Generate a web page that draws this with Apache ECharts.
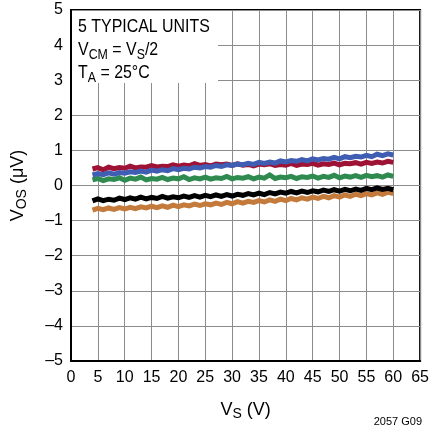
<!DOCTYPE html>
<html>
<head>
<meta charset="utf-8">
<script src="https://cdn.jsdelivr.net/npm/echarts@6/dist/echarts.min.js"></script>
<style>html,body{margin:0;padding:0;background:#fff}#c{width:432px;height:435px}</style>
</head>
<body>
<div id="c"></div>
<script>
var FONT = "'Liberation Sans Narrow','Liberation Sans',Arial,sans-serif";
var xTicksMin = 0, xTicksMax = 65, xTickStep = 5;
var yTicksMin = -5, yTicksMax = 5, yTickStep = 1;

var supplyV = [4,5,6,7,8,9,10,11,12,13,14,15,16,17,18,19,20,21,22,23,24,25,26,27,28,29,30,31,32,33,34,35,36,37,38,39,40,41,42,43,44,45,46,47,48,49,50,51,52,53,54,55,56,57,58,59,60];

var unitRed = [0.47,0.51,0.45,0.52,0.48,0.51,0.49,0.55,0.50,0.53,0.52,0.57,0.53,0.55,0.54,0.59,0.55,0.58,0.56,0.62,0.57,0.60,0.56,0.61,0.59,0.61,0.57,0.62,0.58,0.60,0.56,0.61,0.59,0.62,0.57,0.60,0.58,0.63,0.57,0.61,0.60,0.63,0.58,0.62,0.60,0.64,0.59,0.63,0.62,0.65,0.61,0.66,0.63,0.67,0.64,0.69,0.66];
var unitBlue = [0.30,0.34,0.31,0.36,0.32,0.37,0.35,0.39,0.37,0.41,0.38,0.44,0.41,0.45,0.42,0.48,0.45,0.49,0.47,0.52,0.50,0.54,0.52,0.57,0.54,0.59,0.57,0.61,0.59,0.63,0.60,0.66,0.63,0.67,0.64,0.70,0.67,0.71,0.69,0.74,0.70,0.76,0.73,0.77,0.75,0.80,0.76,0.82,0.79,0.83,0.81,0.86,0.82,0.89,0.85,0.90,0.87];
var unitGreen = [0.16,0.20,0.14,0.19,0.17,0.22,0.15,0.21,0.18,0.24,0.16,0.20,0.18,0.23,0.17,0.21,0.19,0.25,0.17,0.22,0.19,0.24,0.18,0.22,0.20,0.26,0.19,0.23,0.21,0.25,0.19,0.24,0.21,0.30,0.20,0.24,0.22,0.26,0.20,0.25,0.23,0.27,0.21,0.26,0.23,0.29,0.22,0.27,0.24,0.28,0.23,0.29,0.25,0.28,0.24,0.30,0.26];
var unitBlack = [-0.44,-0.38,-0.43,-0.39,-0.42,-0.36,-0.40,-0.35,-0.39,-0.33,-0.38,-0.34,-0.37,-0.31,-0.36,-0.32,-0.35,-0.30,-0.34,-0.29,-0.33,-0.28,-0.32,-0.27,-0.31,-0.26,-0.30,-0.25,-0.28,-0.23,-0.27,-0.22,-0.26,-0.20,-0.24,-0.19,-0.22,-0.17,-0.21,-0.16,-0.20,-0.15,-0.18,-0.13,-0.17,-0.12,-0.16,-0.11,-0.15,-0.10,-0.14,-0.08,-0.12,-0.07,-0.11,-0.08,-0.12];
var unitOrange = [-0.70,-0.65,-0.69,-0.64,-0.68,-0.63,-0.67,-0.62,-0.66,-0.61,-0.64,-0.59,-0.63,-0.58,-0.62,-0.56,-0.60,-0.55,-0.58,-0.53,-0.57,-0.52,-0.55,-0.50,-0.54,-0.48,-0.52,-0.46,-0.50,-0.45,-0.48,-0.43,-0.47,-0.41,-0.45,-0.39,-0.43,-0.37,-0.41,-0.35,-0.39,-0.33,-0.37,-0.31,-0.35,-0.29,-0.33,-0.27,-0.31,-0.25,-0.29,-0.23,-0.27,-0.21,-0.25,-0.19,-0.23];

function pairs(vals){ return supplyV.map(function(x,i){ return [x, vals[i]]; }); }
function mkSeries(vals, color){
  return { type:'line', data: pairs(vals), showSymbol:false, symbol:'none', animation:false,
           lineStyle:{ color: color, width: 5, join:'miter' }, z: 3 };
}

var chart = echarts.init(document.getElementById('c'), null, {renderer:'canvas'});
chart.setOption({
  backgroundColor:'#fff',
  animation:false,
  grid:{ left:71, right:9, top:10, bottom:74, show:true, borderColor:'#000', borderWidth:2, backgroundColor:'transparent' },
  xAxis:{
    type:'value', min:xTicksMin, max:xTicksMax, interval:xTickStep,
    axisLine:{ show:true, onZero:false, lineStyle:{ color:'#000', width:2 } },
    axisTick:{ show:false },
    axisLabel:{ color:'#000', fontSize:16, fontFamily:FONT, margin:9 },
    splitLine:{ show:true, lineStyle:{ color:'#8c8c8c', width:1 } },
    name:'{m|V}{s|S}{m| (V)}', nameLocation:'middle', nameGap:38,
    nameTextStyle:{ rich:{ m:{ fontSize:18, fontFamily:FONT, color:'#000', lineHeight:22 },
                           s:{ fontSize:14, fontFamily:FONT, color:'#000', lineHeight:14, verticalAlign:'bottom' } } }
  },
  yAxis:{
    type:'value', min:yTicksMin, max:yTicksMax, interval:yTickStep,
    axisLine:{ show:true, onZero:false, lineStyle:{ color:'#000', width:2 } },
    axisTick:{ show:false },
    axisLabel:{ color:'#000', fontSize:16, fontFamily:FONT, margin:8,
      formatter:function(v){ return v < 0 ? '\u2013' + Math.abs(v) : String(v); } },
    splitLine:{ show:true, lineStyle:{ color:'#8c8c8c', width:1 } },
    name:'{m|V}{s|OS}{m| (\u03bcV)}', nameLocation:'middle', nameGap:42,
    nameTextStyle:{ rich:{ m:{ fontSize:18, fontFamily:FONT, color:'#000', lineHeight:22 },
                           s:{ fontSize:14, fontFamily:FONT, color:'#000', lineHeight:14, verticalAlign:'bottom' } } }
  },
  series:[
    mkSeries(unitOrange, '#c37a3b'),
    mkSeries(unitBlack, '#000000'),
    mkSeries(unitGreen, '#2f8a4f'),
    mkSeries(unitRed, '#9e1235'),
    mkSeries(unitBlue, '#3f5db3')
  ],
  graphic:[
    { type:'rect', x:72, y:11, shape:{ x:0, y:0, width:146, height:72 }, style:{ fill:'#fff' }, z:10 },
    { type:'text', x:78, y:16, scaleX:0.885, scaleY:1, z:11,
      style:{
        text:'{m|5 TYPICAL UNITS}\n{m|V}{s|CM}{m| = V}{s|S}{m|/2}\n{m|T}{s|A}{m| = 25\u00b0C}',
        verticalAlign:'top', align:'left',
        rich:{ m:{ fontSize:18, fontFamily:FONT, fill:'#000', lineHeight:23 },
               s:{ fontSize:14, fontFamily:FONT, fill:'#000', lineHeight:14, verticalAlign:'bottom' } }
      } },
    { type:'text', x:422, y:416, z:11,
      style:{ text:'2057 G09', fontSize:11, fontFamily:FONT, fill:'#000', align:'right', verticalAlign:'top' } }
  ]
});
</script>
</body>
</html>
